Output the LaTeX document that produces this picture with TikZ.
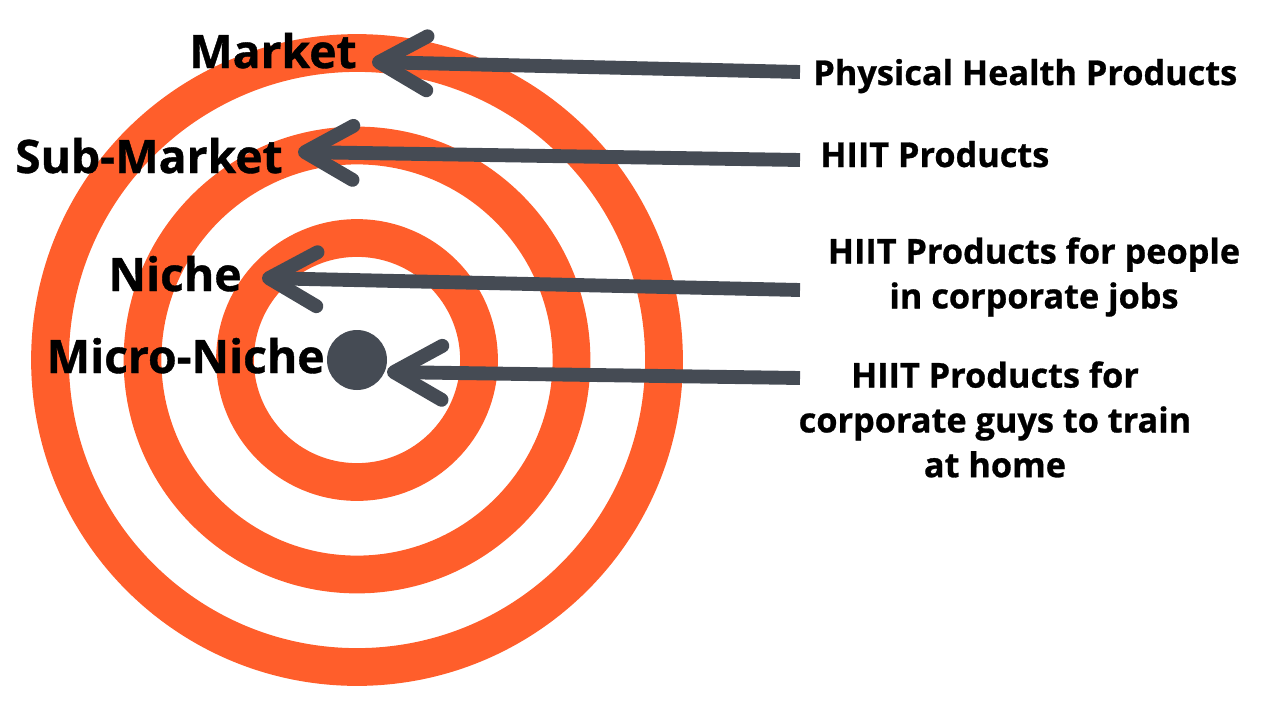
\documentclass[tikz,border=0pt]{standalone}
\usepackage{fontspec}
\setmainfont{Open Sans}[BoldFeatures={FakeBold=0.8}]
\usetikzlibrary{arrows.meta}
\definecolor{ringorange}{HTML}{FF5E2B}
\definecolor{slate}{HTML}{454B54}

\begin{document}
\begin{tikzpicture}[x=0.02cm, y=-0.02cm]
    % Styles
    \tikzstyle{ring} = [draw=ringorange, line width=21.5pt]
    \tikzstyle{level} = [inner sep=0pt, anchor=base east, font=\fontsize{26.3}{31}\selectfont\bfseries]
    \tikzstyle{product} = [inner sep=0pt, align=center, font=\fontsize{19.5}{25.5}\selectfont\bfseries]
    \tikzstyle{pointer} = [draw=slate, line width=7.9pt, -{Straight Barb[length=0.96cm, width=1.08cm, round]}]

    \useasboundingbox (0,0) rectangle (1280,720);

    % Target
    \coordinate (C) at (357,360);
    \draw[ring] (C) circle[radius=307];
    \draw[ring] (C) circle[radius=214.5];
    \draw[ring] (C) circle[radius=122];
    \node[circle, fill=slate, inner sep=0pt, minimum size=1.2cm] (dot) at (C) {};

    % Nodes - levels
    \node[level] (market) at (357,68) {Market};
    \node[level] (submarket) at (283,173) {Sub-Market};
    \node[level] (niche) at (242,291) {Niche};
    \node[level] (microniche) at (325,373) {Micro-Niche};

    % Nodes - products
    \node[product, anchor=base west] (physical) at (813,85) {Physical Health Products};
    \node[product, anchor=base west] (hiit) at (820,167) {HIIT Products};
    \node[product, anchor=north] (jobs) at (1034,237) {HIIT Products for people\\in corporate jobs};
    \node[product, anchor=north] (home) at (995,361) {HIIT Products for\\corporate guys to train\\at home};

    % Arrow ends
    \coordinate (physicalend) at (800,72);
    \coordinate (hiitend) at (800,160);
    \coordinate (jobsend) at (800,290);
    \coordinate (homeend) at (800,378);
    \coordinate (markettip) at (372,62);
    \coordinate (submarkettip) at (298,152);
    \coordinate (nichetip) at (262,278);
    \coordinate (micronichetip) at (387,372);

    % Arrows
    \draw[pointer] (physicalend) -- (markettip);
    \draw[pointer] (hiitend) -- (submarkettip);
    \draw[pointer] (jobsend) -- (nichetip);
    \draw[pointer] (homeend) -- (micronichetip);
\end{tikzpicture}
\end{document}
